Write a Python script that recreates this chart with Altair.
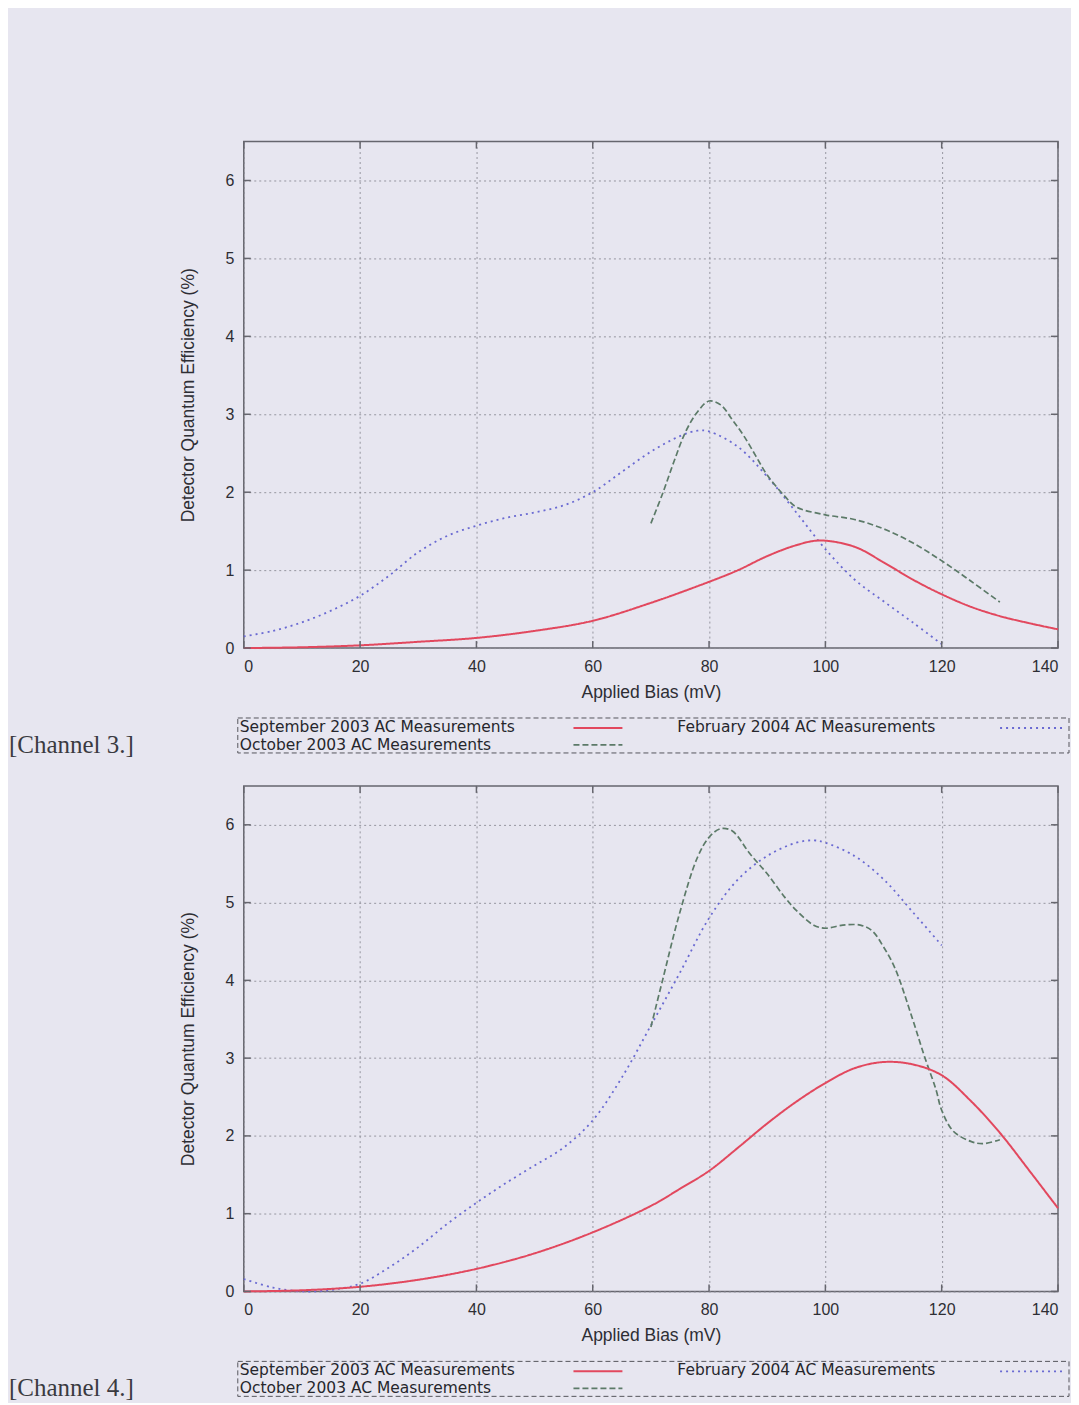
import altair as alt
import pandas as pd

# ---------------- data ----------------
SERIES = ["September 2003 AC Measurements",
          "October 2003 AC Measurements",
          "February 2004 AC Measurements"]
CHANNELS = ["[Channel 3.]", "[Channel 4.]"]
X_TICKS = [0, 20, 40, 60, 80, 100, 120, 140]
Y_TICKS = [0, 1, 2, 3, 4, 5, 6]
X_TITLE = "Applied Bias (mV)"
Y_TITLE = "Detector Quantum Efficiency (%)"

# Channel 3
ch3_sep_x = [0, 10, 20, 30, 40, 50, 60, 70, 80, 85, 90, 95, 99, 105, 110, 115, 120, 125, 130, 135, 140]
ch3_sep_y = [0.0, 0.01, 0.035, 0.08, 0.13, 0.22, 0.35, 0.58, 0.85, 1.0, 1.18, 1.32, 1.38, 1.3, 1.1, 0.88, 0.69, 0.53, 0.41, 0.32, 0.24]

ch3_oct_x = [70, 72, 74, 76, 78, 80, 82, 84, 86, 88, 90, 93, 95, 100, 105, 110, 115, 120, 125, 130]
ch3_oct_y = [1.6, 1.98, 2.4, 2.78, 3.03, 3.17, 3.12, 2.93, 2.72, 2.47, 2.22, 1.95, 1.81, 1.71, 1.65, 1.53, 1.35, 1.12, 0.86, 0.59]

ch3_feb_x = [0, 5, 10, 15, 20, 25, 30, 35, 40, 45, 50, 55, 60, 65, 70, 75, 78, 80, 85, 90, 95, 100, 105, 110, 115, 120]
ch3_feb_y = [0.15, 0.22, 0.33, 0.48, 0.67, 0.93, 1.23, 1.44, 1.57, 1.67, 1.74, 1.83, 2.0, 2.26, 2.52, 2.72, 2.79, 2.78, 2.58, 2.2, 1.74, 1.27, 0.88, 0.6, 0.33, 0.05]

# Channel 4
ch4_sep_x = [0, 10, 20, 30, 40, 50, 60, 70, 75, 80, 85, 90, 95, 100, 105, 110, 115, 120, 125, 130, 135, 140]
ch4_sep_y = [0.0, 0.015, 0.06, 0.15, 0.29, 0.49, 0.76, 1.1, 1.32, 1.55, 1.85, 2.16, 2.44, 2.68, 2.87, 2.95, 2.92, 2.78, 2.45, 2.04, 1.56, 1.07]

ch4_oct_x = [70, 72, 75, 78, 80, 82, 84, 87, 90, 93, 95, 98, 100, 103, 106, 108, 110, 112, 115, 117, 119, 120, 122, 125, 127, 130]
ch4_oct_y = [3.4, 4.0, 4.88, 5.58, 5.84, 5.95, 5.92, 5.63, 5.37, 5.07, 4.9, 4.71, 4.67, 4.71, 4.71, 4.64, 4.43, 4.15, 3.5, 3.03, 2.6, 2.33, 2.06, 1.93, 1.9, 1.95]

ch4_feb_x = [0, 5, 10, 15, 20, 25, 30, 35, 40, 45, 50, 55, 60, 65, 70, 75, 80, 85, 90, 95, 98, 100, 105, 110, 115, 120]
ch4_feb_y = [0.16, 0.05, 0.0, 0.02, 0.1, 0.31, 0.57, 0.87, 1.14, 1.39, 1.62, 1.85, 2.2, 2.75, 3.42, 4.1, 4.8, 5.3, 5.6, 5.77, 5.8, 5.77, 5.6, 5.3, 4.88, 4.45]

# ---------------- style ----------------
COLORS = ["#e2485e", "#5c7a68", "#6a6ad2"]
DASHES = [[1, 0], [6, 3], [2, 4]]
WIDTHS = [2.0, 1.7, 1.8]
BG = "#e7e6f0"
FRAME = "#66666e"
GRID = "#8c8c96"
TXT = "#2e2e34"
FONT = "Liberation Sans"
LEG_FONT = "DejaVu Sans"
W = 815
HEIGHTS = [507, 506]


def series_df(xs, ys, name):
    return pd.DataFrame({"bias": xs, "dqe": ys, "series": name})


def panel(parts, channel, H):
    x_enc = alt.X("bias:Q", scale=alt.Scale(domain=[0, 140], nice=False, zero=False),
                  axis=alt.Axis(values=X_TICKS, title=X_TITLE, grid=True, format="d"))
    y_enc = alt.Y("dqe:Q", scale=alt.Scale(domain=[0, 6.5], nice=False),
                  axis=alt.Axis(values=Y_TICKS, title=Y_TITLE, grid=True, format="d"))

    lines = []
    for i, ((xs, ys), name) in enumerate(zip(parts, SERIES)):
        lines.append(
            alt.Chart(series_df(xs, ys, name)).mark_line(
                strokeWidth=WIDTHS[i], interpolate="catmull-rom",
                color=COLORS[i], strokeDash=DASHES[i]).encode(x=x_enc, y=y_enc)
        )
    # draw red last so it sits on top like the original
    lines = [lines[2], lines[1], lines[0]]

    xt = pd.DataFrame({"bias": X_TICKS})
    yt = pd.DataFrame({"dqe": Y_TICKS})
    tick_kw = dict(color=FRAME, strokeWidth=1.5)
    xb = alt.Chart(xt).mark_rule(**tick_kw).encode(x=x_enc, y=alt.value(H), y2=alt.value(H - 7))
    xtop = alt.Chart(xt).mark_rule(**tick_kw).encode(x=x_enc, y=alt.value(0), y2=alt.value(7))
    yl = alt.Chart(yt).mark_rule(**tick_kw).encode(y=y_enc, x=alt.value(0), x2=alt.value(7))
    yr = alt.Chart(yt).mark_rule(**tick_kw).encode(y=y_enc, x=alt.value(W), x2=alt.value(W - 7))

    one = pd.DataFrame({"k": [0]})
    box = alt.Chart(one).mark_rect(fill="transparent", stroke="#55555c", strokeWidth=1,
                                   strokeDash=[5, 3]).encode(
        x=alt.value(-6), x2=alt.value(826), y=alt.value(H + 70), y2=alt.value(H + 105))

    def ltext(label, px, py):
        return alt.Chart(pd.DataFrame({"t": [label]})).mark_text(
            align="left", baseline="middle", font=LEG_FONT, fontSize=15.5, color="#26262c").encode(
            text="t:N", x=alt.value(px), y=alt.value(py))

    def lsample(i, x1, x2, py):
        return alt.Chart(one).mark_rule(color=COLORS[i], strokeDash=DASHES[i],
                                        strokeWidth=WIDTHS[i]).encode(
            x=alt.value(x1), x2=alt.value(x2), y=alt.value(py))

    legend = [
        box,
        ltext(SERIES[0], -4, H + 79), lsample(0, 330, 379, H + 80),
        ltext(SERIES[2], 434, H + 79), lsample(2, 757, 822, H + 80),
        ltext(SERIES[1], -4, H + 97), lsample(1, 330, 379, H + 97),
    ]

    chan = alt.Chart(pd.DataFrame({"t": [channel]})).mark_text(
        align="left", baseline="middle", font="Liberation Serif", fontSize=25, color="#3a3a40").encode(
        text="t:N", x=alt.value(-235), y=alt.value(H + 97))

    return alt.layer(*lines, xb, xtop, yl, yr, *legend, chan).properties(width=W, height=H)


p1 = panel([(ch3_sep_x, ch3_sep_y), (ch3_oct_x, ch3_oct_y), (ch3_feb_x, ch3_feb_y)], CHANNELS[0], HEIGHTS[0])
p2 = panel([(ch4_sep_x, ch4_sep_y), (ch4_oct_x, ch4_oct_y), (ch4_feb_x, ch4_feb_y)], CHANNELS[1], HEIGHTS[1])

chart = alt.vconcat(p1, p2, spacing=138, bounds="flush").properties(
    padding={"left": 0, "top": 131, "right": 0, "bottom": 0},
    background=BG,
).configure_view(
    stroke=FRAME, strokeWidth=1.5, fill=BG
).configure_axis(
    labelFont=FONT, labelFontSize=16, labelColor=TXT, labelPadding=10,
    titleFont=FONT, titleFontSize=17.5, titleFontWeight="normal", titleColor=TXT,
    ticks=False, domain=False,
    gridColor=GRID, gridDash=[2, 3], gridWidth=1, gridOpacity=0.9,
).configure_axisX(
    titlePadding=9
).configure_axisY(
    titlePadding=27
)

chart.save("out.html", embed_options={"renderer": "svg", "actions": False})
